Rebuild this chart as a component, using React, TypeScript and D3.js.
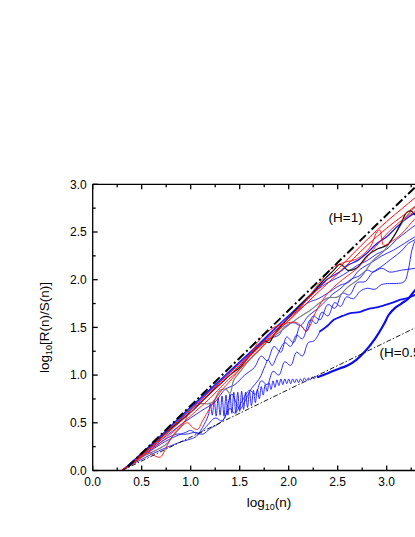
import React from "react";
import * as d3 from "d3";

type P = [number, number];

const xMajorTicks = [0, 0.5, 1.0, 1.5, 2.0, 2.5, 3.0, 3.5];
const xTickLabels = ["0.0", "0.5", "1.0", "1.5", "2.0", "2.5", "3.0"];
const xMinorTicks = [0.25, 0.75, 1.25, 1.75, 2.25, 2.75, 3.25];
const yMajorTicks = [0, 0.5, 1.0, 1.5, 2.0, 2.5, 3.0];
const yMinorTicks = [0.25, 0.75, 1.25, 1.75, 2.25, 2.75];

// reference lines
const refH1: P[] = [[0.36, 0.04], [3.4, 3.08]];
const refH05: P[] = [[0.3, 0.0], [3.4, 1.55]];

// red series
const redA: P[] = [[0.3,0],[0.4,0.08],[0.5,0.17],[0.65,0.3],[0.8,0.45],[1.0,0.64],[1.25,0.88],[1.5,1.12],[1.75,1.36],[2.0,1.6],[2.25,1.85],[2.52,2.13],[2.8,2.42],[3.0,2.61],[3.15,2.74],[3.29,2.86],[3.4,2.96]];
const redB: P[] = [[0.3,0],[0.42,0.08],[0.55,0.2],[0.7,0.33],[0.85,0.47],[1.0,0.61],[1.25,0.86],[1.5,1.1],[1.75,1.34],[2.0,1.57],[2.25,1.82],[2.52,2.08],[2.8,2.36],[3.0,2.54],[3.15,2.66],[3.29,2.77],[3.4,2.86]];
const redC: P[] = [[0.3,0],[0.45,0.1],[0.6,0.22],[0.75,0.34],[0.9,0.48],[1.05,0.62],[1.2,0.76],[1.35,0.92],[1.5,1.06],[1.7,1.27],[1.9,1.47],[2.13,1.72],[2.3,1.95],[2.44,2.12],[2.56,2.18],[2.7,2.22],[2.83,2.34],[2.9,2.5],[2.93,2.52],[2.95,2.42],[2.97,2.36],[3.05,2.4],[3.15,2.48],[3.29,2.64],[3.4,2.74]];
const redD: P[] = [[0.3,0],[0.4,0.08],[0.5,0.16],[0.56,0.2],[0.62,0.16],[0.69,0.14],[0.74,0.22],[0.8,0.34],[0.88,0.44],[0.97,0.5],[1.02,0.45],[1.07,0.43],[1.12,0.52],[1.2,0.66],[1.3,0.82],[1.42,0.96],[1.6,1.2],[1.71,1.38],[1.85,1.5],[2.0,1.55],[2.08,1.55],[2.14,1.5],[2.18,1.46],[2.22,1.52],[2.27,1.65],[2.33,1.76],[2.4,1.86],[2.5,1.96],[2.6,2.04],[2.7,2.12],[2.85,2.3],[3.0,2.48],[3.15,2.62],[3.29,2.72],[3.4,2.8]];

// gray and black series
const grayA: P[] = [[0.3,0],[0.4,0.07],[0.5,0.14],[0.6,0.19],[0.68,0.23],[0.755,0.28],[0.85,0.4],[0.92,0.48],[0.98,0.6],[1.03,0.67],[1.1,0.7],[1.18,0.7],[1.23,0.72],[1.3,0.84],[1.36,0.85],[1.4,0.81],[1.44,0.95],[1.5,1.03],[1.6,1.16],[1.7,1.26],[1.78,1.35],[1.88,1.43],[1.98,1.51],[2.1,1.6],[2.22,1.68],[2.32,1.76],[2.4,1.81],[2.5,1.82],[2.6,1.92],[2.73,2.02],[2.86,2.2],[2.97,2.3],[3.1,2.5],[3.2,2.66],[3.29,2.76],[3.4,2.84]];
const blackA: P[] = [[0.3,0],[0.4,0.08],[0.5,0.17],[0.65,0.3],[0.8,0.44],[1.0,0.61],[1.15,0.76],[1.27,0.88],[1.4,1.0],[1.5,1.08],[1.62,1.22],[1.72,1.33],[1.76,1.36],[1.8,1.34],[1.86,1.44],[2.0,1.6],[2.12,1.74],[2.25,1.87],[2.36,2.0],[2.46,2.1],[2.52,2.16],[2.56,2.14],[2.6,2.1],[2.69,2.12],[2.8,2.25],[2.9,2.32],[3.0,2.36],[3.07,2.45],[3.15,2.6],[3.2,2.7],[3.25,2.72],[3.29,2.68],[3.4,2.74]];

// blue series
const blue1: P[] = [[0.3,0],[0.4,0.09],[0.5,0.18],[0.7,0.37],[0.9,0.57],[1.1,0.76],[1.3,0.95],[1.5,1.14],[1.7,1.33],[1.9,1.53],[2.1,1.72],[2.25,1.87],[2.4,2.01],[2.52,2.08],[2.6,2.15],[2.7,2.2],[2.8,2.28],[2.9,2.38],[3.0,2.45],[3.1,2.55],[3.2,2.64],[3.29,2.7],[3.4,2.76]];
const blue2: P[] = [[0.3,0],[0.4,0.09],[0.5,0.18],[0.7,0.37],[0.9,0.56],[1.1,0.75],[1.3,0.94],[1.5,1.13],[1.7,1.32],[1.9,1.52],[2.1,1.71],[2.2,1.81],[2.3,1.9],[2.4,1.97],[2.52,2.03],[2.6,2.08],[2.7,2.15],[2.8,2.2],[2.9,2.27],[3.0,2.32],[3.1,2.42],[3.2,2.5],[3.29,2.57],[3.4,2.62]];
const blue3: P[] = [[0.3,0],[0.4,0.09],[0.5,0.18],[0.7,0.36],[0.9,0.55],[1.1,0.74],[1.3,0.93],[1.5,1.12],[1.7,1.31],[1.9,1.5],[2.0,1.6],[2.1,1.68],[2.2,1.76],[2.3,1.8],[2.4,1.86],[2.52,1.94],[2.62,1.98],[2.72,2.1],[2.86,2.19],[2.95,2.25],[3.07,2.31],[3.18,2.38],[3.29,2.45],[3.4,2.5]];
const blue4: P[] = [[0.3,0],[0.4,0.09],[0.5,0.17],[0.7,0.36],[0.9,0.54],[1.1,0.72],[1.3,0.9],[1.5,1.1],[1.7,1.3],[1.8,1.38],[1.9,1.42],[1.95,1.5],[2.05,1.55],[2.12,1.52],[2.2,1.62],[2.3,1.7],[2.38,1.78],[2.45,1.85],[2.52,1.9],[2.63,2.0],[2.72,2.04],[2.8,2.1],[2.86,2.08],[2.95,2.12],[3.03,2.08],[3.15,2.1],[3.29,2.12],[3.4,2.16]];
const blue5: P[] = [[0.3,0],[0.5,0.16],[0.7,0.32],[0.9,0.48],[1.1,0.62],[1.25,0.72],[1.35,0.85],[1.45,0.9],[1.55,1.0],[1.65,1.08],[1.72,1.2],[1.78,1.15],[1.85,1.3],[1.92,1.24],[1.98,1.4],[2.05,1.34],[2.12,1.52],[2.18,1.46],[2.25,1.62],[2.32,1.58],[2.4,1.74],[2.47,1.7],[2.55,1.86],[2.62,1.84],[2.7,1.97],[2.78,1.98],[2.86,2.08],[2.95,2.14],[3.05,2.22],[3.15,2.3],[3.22,2.38],[3.29,2.42],[3.4,2.5]];
const blue6: P[] = [[0.3,0],[0.5,0.15],[0.7,0.3],[0.85,0.38],[0.95,0.38],[1.05,0.4],[1.12,0.38],[1.2,0.44],[1.3,0.5],[1.35,0.56],[1.38,0.7],[1.42,0.8],[1.46,0.72],[1.5,0.64],[1.55,0.72],[1.62,0.86],[1.7,0.96],[1.76,1.1],[1.79,1.16],[1.83,1.1],[1.88,1.2],[1.96,1.34],[2.02,1.3],[2.08,1.42],[2.14,1.38],[2.22,1.58],[2.28,1.54],[2.34,1.66],[2.4,1.62],[2.47,1.76],[2.53,1.72],[2.59,1.82],[2.66,1.8],[2.73,1.88],[2.8,1.91],[2.88,1.9],[2.95,1.95],[3.03,1.96],[3.1,1.96],[3.18,1.98],[3.22,2.1],[3.26,2.32],[3.3,2.42],[3.4,2.48]];
const blue7: P[] = [[0.3,0],[0.5,0.14],[0.7,0.28],[0.85,0.36],[0.95,0.4],[1.0,0.42],[1.08,0.38],[1.15,0.45],[1.25,0.55],[1.32,0.52],[1.4,0.65],[1.45,0.6],[1.52,0.72],[1.6,0.84],[1.66,0.8],[1.72,0.94],[1.78,0.9],[1.84,1.04],[1.9,1.0],[1.96,1.14],[2.02,1.1],[2.08,1.24],[2.14,1.2],[2.2,1.34],[2.26,1.36],[2.32,1.46]];
const blue7Tail: P[] = [[2.32,1.46],[2.4,1.52],[2.46,1.58],[2.55,1.62],[2.63,1.65],[2.72,1.66],[2.8,1.69],[2.9,1.71],[2.97,1.73],[3.06,1.76],[3.14,1.79],[3.22,1.81],[3.29,1.84],[3.4,1.88]];
const blueLow: P[] = [[0.3,0],[0.45,0.09],[0.6,0.17],[0.75,0.24],[0.9,0.3],[1.0,0.33],[1.06,0.36],[1.12,0.45],[1.18,0.58],
  [1.2,0.7],[1.22,0.58],[1.24,0.74],[1.26,0.57],[1.28,0.76],[1.3,0.58],[1.32,0.78],[1.34,0.57],[1.36,0.79],[1.38,0.58],
  [1.4,0.8],[1.42,0.6],[1.44,0.82],[1.46,0.6],[1.48,0.82],[1.5,0.62],[1.52,0.83],[1.54,0.64],[1.56,0.82],[1.58,0.66],
  [1.6,0.83],[1.62,0.68],[1.64,0.84],[1.66,0.71],[1.68,0.85],[1.7,0.75],[1.72,0.88],[1.74,0.79],[1.76,0.9],[1.78,0.83],
  [1.8,0.92],[1.82,0.85],[1.84,0.94],[1.86,0.87],[1.88,0.95],[1.9,0.89],[1.92,0.96],[1.94,0.9],[1.96,0.96],[1.98,0.91],
  [2.0,0.96],[2.02,0.91],[2.04,0.96],[2.06,0.92],[2.08,0.96],[2.1,0.92],[2.12,0.96],[2.14,0.93],[2.16,0.97],[2.18,0.94],
  [2.2,0.97],[2.22,0.95],[2.24,0.98],[2.26,0.96],[2.28,0.99],[2.3,0.98]];
const blueLowTail: P[] = [[2.3,0.98],[2.4,1.02],[2.52,1.07],[2.6,1.1],[2.69,1.16],[2.78,1.25],[2.88,1.38],[2.97,1.53],[3.02,1.63],[3.08,1.7],[3.15,1.75],[3.22,1.8],[3.29,1.89],[3.4,1.97]];

interface Series { data: P[]; color: string; width: number; }

const BLUE = "#1a1aff";
const RED = "#ff1010";

const series: Series[] = [
  { data: blue7, color: BLUE, width: 0.9 },
  { data: blue7Tail, color: "#1010f0", width: 1.8 },
  { data: blue6, color: BLUE, width: 0.9 },
  { data: blue5, color: BLUE, width: 0.9 },
  { data: blue4, color: BLUE, width: 0.9 },
  { data: blue3, color: BLUE, width: 0.9 },
  { data: blue2, color: BLUE, width: 0.9 },
  { data: blue1, color: BLUE, width: 1.3 },
  { data: blueLow, color: BLUE, width: 0.9 },
  { data: blueLowTail, color: "#0c0ce6", width: 2.2 },
  { data: grayA, color: "#808080", width: 1.2 },
  { data: blackA, color: "#111111", width: 1.2 },
  { data: redD, color: RED, width: 0.9 },
  { data: redC, color: RED, width: 0.9 },
  { data: redB, color: RED, width: 1.0 },
  { data: redA, color: RED, width: 1.0 },
];

const W = 415;
const H = 537;
const FONT = "Arial, 'Liberation Sans', Helvetica, sans-serif";

export default function App() {
  const x = d3.scaleLinear().domain([0, 3.5]).range([92.7, 435.7]);
  const y = d3.scaleLinear().domain([0, 3]).range([470.5, 184.3]);
  const line = d3
    .line<P>()
    .x((d) => x(d[0]))
    .y((d) => y(d[1]))
    .curve(d3.curveCatmullRom.alpha(0.5));
  const straight = d3.line<P>().x((d) => x(d[0])).y((d) => y(d[1]));
  const x0 = x(0), x1 = x(3.5), y0 = y(0), y1 = y(3);
  const majorLen = 5, minorLen = 3;

  return (
    <svg
      width={W}
      height={H}
      style={{ position: "absolute", left: 0, top: 0, background: "#fff" }}
      fontFamily={FONT}
    >
      <defs>
        <clipPath id="plot">
          <rect x={x0} y={y1} width={x1 - x0} height={y0 - y1} />
        </clipPath>
      </defs>
      <rect x={0} y={0} width={W} height={H} fill="#fff" />
      <g clipPath="url(#plot)" fill="none" strokeLinejoin="round" strokeLinecap="round">
        {series.map((s, i) => (
          <path key={i} d={line(s.data) || ""} stroke={s.color} strokeWidth={s.width} />
        ))}
        <path d={straight(refH1) || ""} stroke="#000" strokeWidth={2} strokeDasharray="9,3,2,3" strokeLinecap="butt" />
        <path d={straight(refH05) || ""} stroke="#000" strokeWidth={0.9} strokeDasharray="5,2,1.5,2" strokeLinecap="butt" />
      </g>
      <g stroke="#000" strokeWidth={1.3} fill="none">
        <line x1={x0} y1={y0} x2={x1} y2={y0} />
        <line x1={x0} y1={y1} x2={x1} y2={y1} />
        <line x1={x0} y1={y0} x2={x0} y2={y1} />
        <line x1={x1} y1={y0} x2={x1} y2={y1} />
        {xMajorTicks.map((t) => (
          <g key={"xM" + t}>
            <line x1={x(t)} x2={x(t)} y1={y0} y2={y0 - majorLen} />
            <line x1={x(t)} x2={x(t)} y1={y1} y2={y1 + majorLen} />
          </g>
        ))}
        {xMinorTicks.map((t) => (
          <g key={"xm" + t}>
            <line x1={x(t)} x2={x(t)} y1={y0} y2={y0 - minorLen} />
            <line x1={x(t)} x2={x(t)} y1={y1} y2={y1 + minorLen} />
          </g>
        ))}
        {yMajorTicks.map((t) => (
          <g key={"yM" + t}>
            <line x1={x0} x2={x0 + majorLen} y1={y(t)} y2={y(t)} />
            <line x1={x1} x2={x1 - majorLen} y1={y(t)} y2={y(t)} />
          </g>
        ))}
        {yMinorTicks.map((t) => (
          <g key={"ym" + t}>
            <line x1={x0} x2={x0 + minorLen} y1={y(t)} y2={y(t)} />
            <line x1={x1} x2={x1 - minorLen} y1={y(t)} y2={y(t)} />
          </g>
        ))}
      </g>
      <g fontSize={12} fill="#000">
        {xTickLabels.map((t, i) => (
          <text key={"xl" + t} x={x(xMajorTicks[i])} y={486} textAnchor="middle">
            {t}
          </text>
        ))}
        {yMajorTicks.map((t) => (
          <text key={"yl" + t} x={x0 - 6} y={y(t) + 4.3} textAnchor="end">
            {t.toFixed(1)}
          </text>
        ))}
      </g>
      <text x={269} y={507} textAnchor="middle" fontSize={13.5}>
        log
        <tspan fontSize={9} dy={3}>10</tspan>
        <tspan dy={-3}>(n)</tspan>
      </text>
      <text
        transform={`translate(49, ${(y0 + y1) / 2}) rotate(-90)`}
        textAnchor="middle"
        fontSize={13.5}
      >
        log
        <tspan fontSize={9} dy={3}>10</tspan>
        <tspan dy={-3}>[R(n)/S(n)]</tspan>
      </text>
      <text x={328.5} y={222} fontSize={13.5}>(H=1)</text>
      <text x={379.5} y={357} fontSize={13.5}>(H=0.5)</text>
    </svg>
  );
}
